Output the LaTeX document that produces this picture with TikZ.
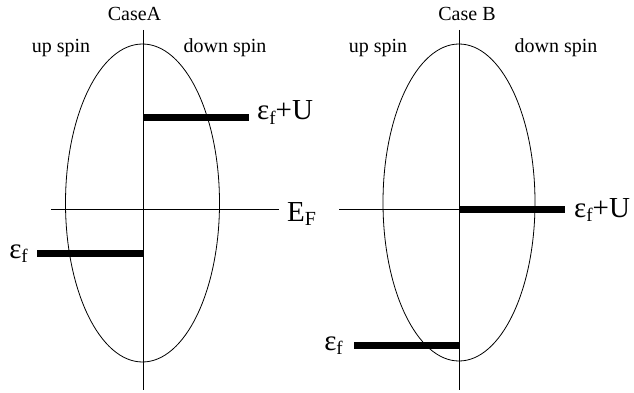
\documentclass[tikz,border=0pt]{standalone}
\usepackage{fontspec}
\setmainfont{Liberation Serif}
\usetikzlibrary{positioning}
\tikzset{
  thinline/.style={line width=0.8pt},
  levelbar/.style={line width=7pt},
  spintext/.style={font=\fontsize{20}{20}\selectfont, inner sep=0pt, anchor=base},
  leveltext/.style={font=\fontsize{29}{29}\selectfont, inner sep=0pt},
}
\newcommand{\epsf}{ε\raisebox{-0.35ex}{\fontsize{19}{19}\selectfont f}}

\begin{document}
\begin{tikzpicture}[x=1pt, y=-1pt]
    \useasboundingbox (0,0) rectangle (634,393);
    % Case A
    \coordinate (Atop) at (143,30);
    \coordinate (Abot) at (143,390);
    \coordinate (Aefl) at (51,209);
    \coordinate (Aefr) at (279,209);
    \draw[thinline] (Atop) -- (Abot);
    \draw[thinline] (142.5,203) ellipse [x radius=77, y radius=159];
    \draw[thinline] (Aefl) -- (Aefr);
    \node[spintext] (Atitle) at (134.5,21) {CaseA};
    \node[spintext] (Aup) at (61,53) {up spin};
    \node[spintext] (Adown) at (225,53) {down spin};
    \node[leveltext, anchor=base west] (Aef) at (287,221) {E\raisebox{-0.35ex}{\fontsize{20}{20}\selectfont F}};
    \coordinate (Au0) at (143,118);
    \coordinate (Au1) at (249,118);
    \draw[levelbar] (Au0) -- (Au1);
    \node[leveltext, anchor=base west] (Aul) at (257,120) {\epsf+U};
    \coordinate (Al0) at (37,253);
    \coordinate (Al1) at (143,253);
    \draw[levelbar] (Al0) -- (Al1);
    \node[leveltext, anchor=base east] (All) at (28,258) {\epsf};
    % Case B
    \coordinate (Btop) at (459,30);
    \coordinate (Bbot) at (459,390);
    \coordinate (Befl) at (339,209);
    \coordinate (Befr) at (540,209);
    \draw[thinline] (Btop) -- (Bbot);
    \draw[thinline] (459,202.5) ellipse [x radius=76, y radius=158.5];
    \draw[thinline] (Befl) -- (Befr);
    \node[spintext] (Btitle) at (467,21) {Case B};
    \node[spintext] (Bup) at (378,53) {up spin};
    \node[spintext] (Bdown) at (556,53) {down spin};
    \coordinate (Bu0) at (459,209);
    \coordinate (Bu1) at (565,209);
    \draw[levelbar] (Bu0) -- (Bu1);
    \node[leveltext, anchor=base west] (Bul) at (574,217) {\epsf+U};
    \coordinate (Bl0) at (354,345);
    \coordinate (Bl1) at (459,345);
    \draw[levelbar] (Bl0) -- (Bl1);
    \node[leveltext, anchor=base east] (Bll) at (343,350) {\epsf};
  \end{tikzpicture}
\end{document}
